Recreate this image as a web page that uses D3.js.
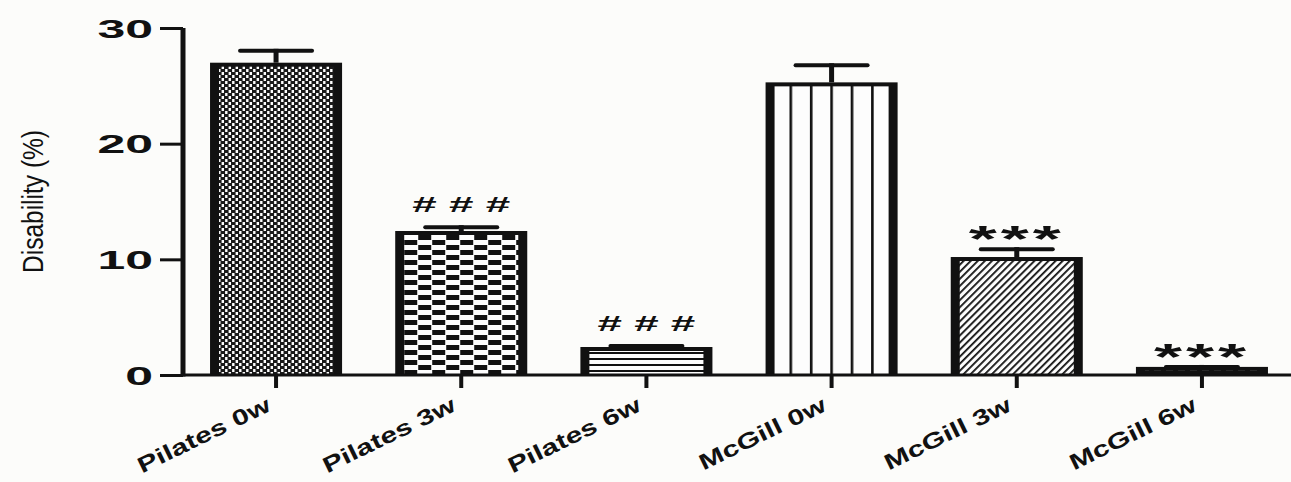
<!DOCTYPE html>
<html>
<head>
<meta charset="utf-8">
<script src="https://cdn.jsdelivr.net/npm/d3@7/dist/d3.min.js"></script>
<style>
  html, body { margin: 0; padding: 0; background: #fcfcfa; }
  svg { display: block; }
  text { font-family: "Liberation Sans", Arial, Helvetica, sans-serif; fill: #111; }
</style>
</head>
<body>
<svg id="chart" width="1291" height="482"></svg>
<script>
// Disability scores per group and time point (mean and SEM)
const groups = ["Pilates 0w", "Pilates 3w", "Pilates 6w", "McGill 0w", "McGill 3w", "McGill 6w"];
const means = [27.0, 12.45, 2.42, 25.3, 10.2, 0.7];
const sems = [1.2, 0.5, 0.26, 1.65, 0.85, 0.17];
// significance vs. baseline: # for Pilates, * for McGill
const sigMarks = ["", "# # #", "# # #", "", "***", "***"];
const fills = ["fine", "checker", "hlines", "vlines", "diag", "dashes"];
const yTicks = [0, 10, 20, 30];
const yTitle = "Disability (%)";

const rows = groups.map((name, i) => ({ name, mean: means[i], sem: sems[i], mark: sigMarks[i], fill: fills[i] }));

const svg = d3.select("#chart");
const x = d3.scaleBand().domain(groups).range([183, 1295]).paddingInner(0.287).paddingOuter(0.146);
const y = d3.scaleLinear().domain([0, 30]).range([375, 28]);
const cx = d => x(d.name) + x.bandwidth() / 2;

// fill patterns
const defs = svg.append("defs");
function pat(id, w, h, extra) {
  const p = defs.append("pattern").attr("id", id).attr("patternUnits", "userSpaceOnUse")
    .attr("width", w).attr("height", h);
  if (extra) extra(p);
  p.append("rect").attr("width", w).attr("height", h).attr("fill", "#fdfdfd");
  return p;
}
let p = pat("fine", 7, 6);
p.append("rect").attr("x", 0).attr("y", 0).attr("width", 4.6).attr("height", 3).attr("fill", "#1a1a1a");
p.append("rect").attr("x", 3.5).attr("y", 3).attr("width", 4.6).attr("height", 3).attr("fill", "#1a1a1a");
p.append("rect").attr("x", -3.5).attr("y", 3).attr("width", 4.6).attr("height", 3).attr("fill", "#1a1a1a");

p = pat("checker", 28, 10, q => q.attr("x", x("Pilates 3w") + 9));
p.append("rect").attr("x", 0).attr("y", 0).attr("width", 13).attr("height", 5).attr("fill", "#111");
p.append("rect").attr("x", 14).attr("y", 5).attr("width", 13).attr("height", 5).attr("fill", "#111");

p = pat("hlines", 10, 6, q => q.attr("y", y(0) + 1));
p.append("rect").attr("x", 0).attr("y", 0).attr("width", 10).attr("height", 2).attr("fill", "#111");

p = pat("vlines", 20.4, 10, q => q.attr("x", x("McGill 0w") + x.bandwidth() / 2 - 1.3));
p.append("rect").attr("x", 0).attr("y", 0).attr("width", 2.6).attr("height", 10).attr("fill", "#111");

p = pat("diag", 5, 5, q => q.attr("patternTransform", "rotate(45)"));
p.append("rect").attr("x", 0).attr("y", 0).attr("width", 1.8).attr("height", 5).attr("fill", "#111");

p = pat("dashes", 12, 8);
p.select("rect").attr("fill", "#111");
p.append("rect").attr("x", 2).attr("y", 1).attr("width", 7).attr("height", 2).attr("fill", "#fdfdfd");

const g = svg.append("g");

// bars: thick black frame, patterned interior
const bars = g.selectAll(".bar").data(rows).join("g").attr("class", "bar");
bars.append("rect")
  .attr("x", d => x(d.name)).attr("y", d => y(d.mean))
  .attr("width", x.bandwidth()).attr("height", d => y(0) - y(d.mean))
  .attr("fill", "#111");
bars.filter(d => y(0) - y(d.mean) > 5).append("rect")
  .attr("x", d => x(d.name) + 9).attr("y", d => y(d.mean) + 4)
  .attr("width", x.bandwidth() - 18).attr("height", d => y(0) - y(d.mean) - 4)
  .attr("fill", d => `url(#${d.fill})`);

// error bars (upper only)
bars.append("line")
  .attr("x1", cx).attr("x2", cx)
  .attr("y1", d => y(d.mean + d.sem)).attr("y2", d => y(d.mean))
  .attr("stroke", "#111").attr("stroke-width", 5);
bars.append("line")
  .attr("x1", d => cx(d) - 36).attr("x2", d => cx(d) + 36)
  .attr("y1", d => y(d.mean + d.sem) + 2).attr("y2", d => y(d.mean + d.sem) + 2)
  .attr("stroke", "#111").attr("stroke-width", 4).attr("stroke-linecap", "round");

// significance marks
bars.filter(d => d.mark !== "").append("text")
  .attr("transform", d => {
    const top = y(d.mean + d.sem);
    const dy = d.mark.startsWith("#") ? -13 : 5;
    return `translate(${cx(d)},${top + dy}) scale(2,1)`;
  })
  .attr("text-anchor", "middle")
  .style("font-weight", "bold")
  .style("letter-spacing", d => d.mark.startsWith("#") ? "0px" : "2px")
  .style("font-size", d => d.mark.startsWith("#") ? "22px" : "36px")
  .text(d => d.mark);

// y axis
const yAxis = g.append("g").attr("transform", "translate(183,0)")
  .call(d3.axisLeft(y).tickValues(yTicks).tickSize(23).tickSizeOuter(0).tickFormat(d3.format("d")));
yAxis.select(".domain").attr("stroke", "#111").attr("stroke-width", 5).attr("d", `M0,${y(30)}V${y(0) + 1.5}`);
yAxis.selectAll(".tick line").attr("stroke", "#111").attr("stroke-width", 3);
yAxis.selectAll(".tick text").remove();
yAxis.selectAll(".tick").append("text")
  .attr("transform", "translate(-30,0) scale(2,1)")
  .attr("dy", "0.36em").attr("text-anchor", "end")
  .style("font-weight", "bold").style("font-size", "25px")
  .text(d => d);

// x axis
const xAxis = g.append("g").attr("transform", `translate(0,${y(0)})`)
  .call(d3.axisBottom(x).tickSize(13).tickSizeOuter(0));
xAxis.select(".domain").attr("stroke", "#111").attr("stroke-width", 3).attr("d", "M181,0H1295");
xAxis.selectAll(".tick line").attr("stroke", "#111").attr("stroke-width", 4);
xAxis.selectAll(".tick text").remove();
xAxis.selectAll(".tick").append("text")
  .attr("transform", "translate(-4,35) rotate(-26) scale(1.36,1)")
  .attr("text-anchor", "end")
  .style("font-weight", "bold").style("font-size", "22px")
  .text(d => d);

// y axis title
g.append("text")
  .attr("transform", `translate(43,${(130 + 273) / 2}) rotate(-90)`)
  .attr("text-anchor", "middle")
  .attr("textLength", 143).attr("lengthAdjust", "spacingAndGlyphs")
  .style("font-size", "29px")
  .text(yTitle);
</script>
</body>
</html>
